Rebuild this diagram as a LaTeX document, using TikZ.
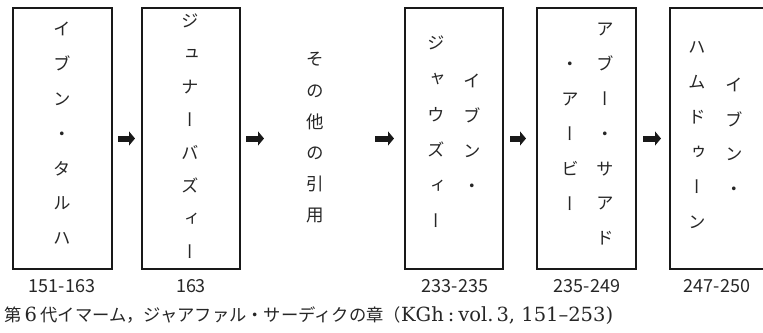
\documentclass[tikz,border=0pt]{standalone}
\usepackage{fontspec}
\setmainfont{Liberation Serif}
\newfontfamily\cjk{Noto Sans CJK JP}
\newfontfamily\cjkv[RawFeature=+vert]{Noto Sans CJK JP}
\newfontfamily\capserif{DejaVu Serif}
\usetikzlibrary{arrows.meta}
\tikzset{
  box/.style={draw=black!90, line width=2pt, rectangle, minimum height=261pt, inner sep=0pt},
  vch/.style={font=\cjkv\fontsize{17.5}{20}\selectfont, text=black!85, inner sep=0pt, text height=0.88em, text depth=0.12em, anchor=center},
  lbl/.style={font=\cjk\fontsize{18}{20}\selectfont, text=black!85, inner sep=0pt},
  arr/.style={line width=6pt, draw=black!90, -{Triangle[length=6pt,width=14pt]}},
}
\newcommand\vcol[5]{%
  \foreach \c [count=\i from 0] in {#5}
    \node[vch] (#1-\i) at (#2, #3+\i*#4) {\c};}
\newcommand\jp[1]{{\cjk\fontsize{17.3}{18}\selectfont #1}}
\begin{document}
\begin{tikzpicture}[x=1pt,y=-1pt]
\useasboundingbox (0,0) rectangle (763,332);
% boxes
\node[box, minimum width=99pt] (b1) at (62.5,138.5) {};
\node[box, minimum width=98pt] (b2) at (191,138.5) {};
\node[box, minimum width=98pt] (b3) at (454,138.5) {};
\node[box, minimum width=99pt] (b4) at (586.5,138.5) {};
\node[box, minimum width=99pt] (b5) at (719.5,138.5) {};
% vertical texts
\vcol{t1}{62}{32}{34.8}{イ,ブ,ン,・,タ,ル,ハ}
\vcol{t2}{190}{24}{33}{ジ,ュ,ナ,ー,バ,ズ,ィ,ー}
\vcol{tm}{315}{62}{31.2}{そ,の,他,の,引,用}
\vcol{t3r}{472}{84}{35}{イ,ブ,ン,・}
\vcol{t3l}{436}{46}{35.6}{ジ,ャ,ウ,ズ,ィ,ー}
\vcol{t4r}{605}{32}{34.8}{ア,ブ,ー,・,サ,ア,ド}
\vcol{t4l}{570}{67}{35}{・,ア,ー,ビ,ー}
\vcol{t5r}{734}{88}{34.5}{イ,ブ,ン,・}
\vcol{t5l}{697}{50}{35}{ハ,ム,ド,ゥ,ー,ン}
% arrows
\draw[arr] ([xshift=5pt]b1.east) -- ([xshift=-6pt]b2.west);
\draw[arr] ([xshift=5pt]b2.east) -- ([xshift=23pt]b2.east);
\draw[arr] ([xshift=-29pt]b3.west) -- ([xshift=-10pt]b3.west);
\draw[arr] ([xshift=6pt]b3.east) -- ([xshift=-10pt]b4.west);
\draw[arr] ([xshift=6pt]b4.east) -- ([xshift=-8pt]b5.west);
% labels
\node[lbl] (l1) at (62,286) {151-163};
\node[lbl] (l2) at (191,286) {163};
\node[lbl] (l3) at (455,286) {233-235};
\node[lbl] (l4) at (587,286) {235-249};
\node[lbl] (l5) at (717,286) {247-250};
% caption
\node[anchor=west, inner sep=0pt, text=black!85, font=\capserif\fontsize{19.5}{20}\selectfont] (cap) at (4,316)
  {\jp{第}\,6\,\jp{代イマーム，ジャアファル・サーディクの章（}KGh\hspace{4pt}:\hspace{4pt}vol.\hspace{3pt}3, 151–253)};
\end{tikzpicture}
\end{document}
